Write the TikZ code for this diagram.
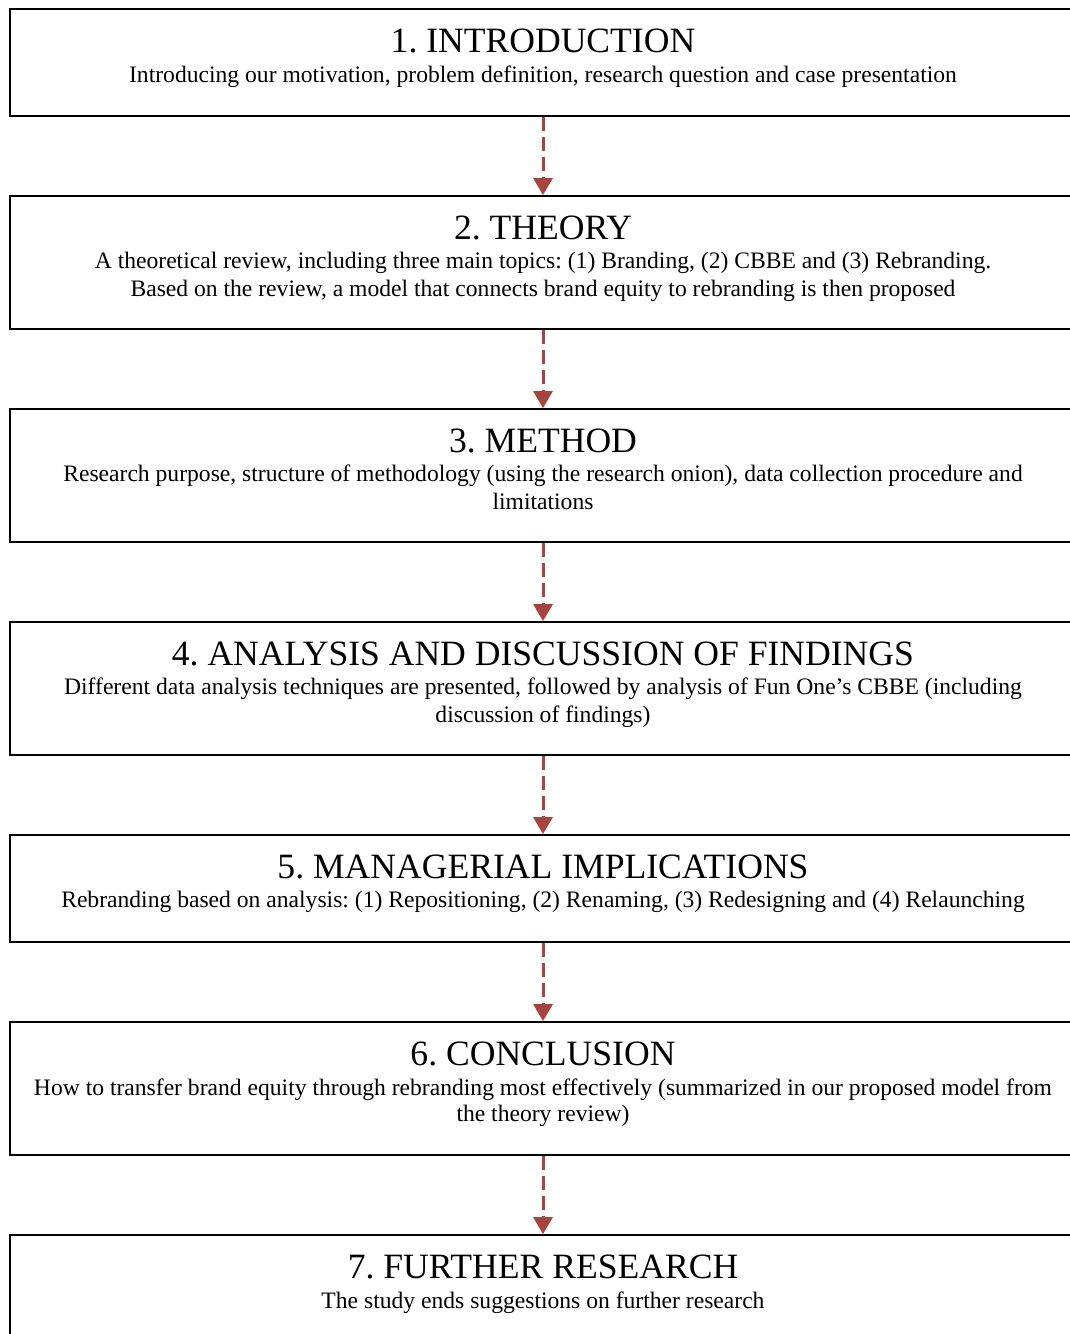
\documentclass[tikz,border=0pt]{standalone}
\usepackage{fontspec}
\setmainfont{Liberation Serif}
\usetikzlibrary{arrows.meta}
\definecolor{flowred}{RGB}{168,68,64}
\begin{document}
\frenchspacing
\begin{tikzpicture}[x=1pt,y=-1pt,
  stage/.style={draw=black, line width=2pt, minimum width=1066pt, inner sep=0pt, anchor=north},
  heading/.style={anchor=base, inner sep=0pt, font=\fontsize{35.6}{40}\selectfont},
  detail/.style={anchor=base, inner sep=0pt, font=\fontsize{23.6}{28}\selectfont},
  flow/.style={draw=flowred, line width=3pt, dash pattern=on 14pt off 6pt,
    -{Triangle[width=20pt,length=17pt,line width=0pt]}}]
\useasboundingbox (0,0) rectangle (1069,1334);

% stages
\node[stage, minimum height=107pt] (b1) at (543,8) {};
\node[stage, minimum height=133pt] (b2) at (543,195) {};
\node[stage, minimum height=133pt] (b3) at (543,408) {};
\node[stage, minimum height=133pt] (b4) at (543,621) {};
\node[stage, minimum height=107pt] (b5) at (543,834) {};
\node[stage, minimum height=133pt] (b6) at (543,1021) {};
\node[stage, minimum height=120pt] (b7) at (543,1234) {};

% texts
\node[heading] (h1) at (543,52) {1. INTRODUCTION};
\node[detail] (d1) at (543,82) {Introducing our motivation, problem definition, research question and case presentation};

\node[heading] (h2) at (543,239) {2. THEORY};
\node[detail] (d2a) at (543,268) {A theoretical review, including three main topics: (1) Branding, (2) CBBE and (3) Rebranding.};
\node[detail] (d2b) at (543,296) {Based on the review, a model that connects brand equity to rebranding is then proposed};

\node[heading] (h3) at (543,452) {3. METHOD};
\node[detail] (d3a) at (543,481) {Research purpose, structure of methodology (using the research onion), data collection procedure and};
\node[detail] (d3b) at (543,509) {limitations};

\node[heading] (h4) at (543,665) {4. ANALYSIS AND DISCUSSION OF FINDINGS};
\node[detail] (d4a) at (543,694) {Different data analysis techniques are presented, followed by analysis of Fun One’s CBBE (including};
\node[detail] (d4b) at (543,722) {discussion of findings)};

\node[heading] (h5) at (543,878) {5. MANAGERIAL IMPLICATIONS};
\node[detail] (d5) at (543,907) {Rebranding based on analysis: (1) Repositioning, (2) Renaming, (3) Redesigning and (4) Relaunching};

\node[heading] (h6) at (543,1065) {6. CONCLUSION};
\node[detail] (d6a) at (543,1095) {How to transfer brand equity through rebranding most effectively (summarized in our proposed model from};
\node[detail] (d6b) at (543,1121) {the theory review)};

\node[heading] (h7) at (543,1278) {7. FURTHER RESEARCH};
\node[detail] (d7) at (543,1308) {The study ends suggestions on further research};

% connectors
\draw[flow] (b1.south) -- (b2.north);
\draw[flow] (b2.south) -- (b3.north);
\draw[flow] (b3.south) -- (b4.north);
\draw[flow] (b4.south) -- (b5.north);
\draw[flow] (b5.south) -- (b6.north);
\draw[flow] (b6.south) -- (b7.north);
\end{tikzpicture}
\end{document}
